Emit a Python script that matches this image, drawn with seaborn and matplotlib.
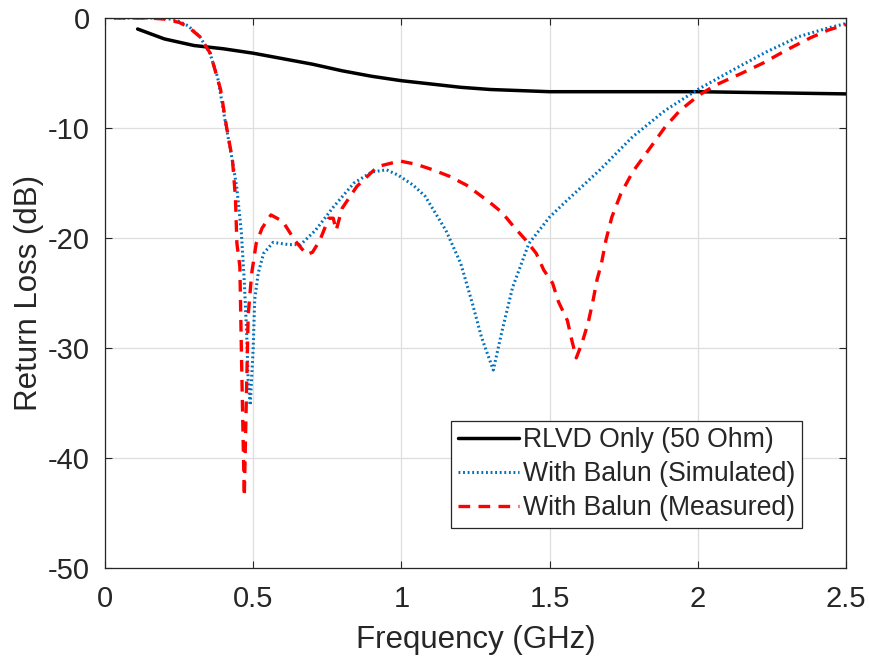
import numpy as np
import pandas as pd
import matplotlib
matplotlib.use("Agg")
import matplotlib.pyplot as plt
import seaborn as sns

# ---- data ----
rlvd_x = [0.11, 0.2, 0.3, 0.4, 0.5, 0.6, 0.7, 0.8, 0.9, 1.0, 1.1, 1.2, 1.3, 1.4, 1.5, 1.75, 2.0, 2.25, 2.5]
rlvd_y = [-1.0, -1.9, -2.5, -2.8, -3.2, -3.7, -4.2, -4.8, -5.3, -5.7, -6.0, -6.3, -6.5, -6.6, -6.7, -6.7, -6.7, -6.8, -6.9]

sim_x = [0.03, 0.1, 0.15, 0.2, 0.24, 0.28, 0.32, 0.354, 0.38, 0.405, 0.43, 0.445, 0.46, 0.47, 0.478,
         0.483, 0.49, 0.5, 0.505, 0.517, 0.535, 0.567, 0.62, 0.66, 0.71, 0.77, 0.84, 0.9, 0.95, 0.99,
         1.04, 1.08, 1.15, 1.2, 1.24, 1.27, 1.31, 1.34, 1.375, 1.43, 1.5, 1.55, 1.61, 1.67, 1.78, 1.89, 2.0,
         2.12, 2.23, 2.34, 2.44, 2.5]
sim_y = [0.0, 0.0, 0.0, 0.0, -0.2, -0.7, -1.7, -3.2, -5.4, -9.3, -13.0, -15.5, -19.5, -24.0, -28.7,
         -33.0, -35.2, -30.0, -25.6, -23.2, -21.4, -20.4, -20.6, -20.6, -19.3, -17.2, -15.0, -14.0, -13.8, -14.3,
         -15.2, -16.2, -19.3, -22.3, -26.0, -29.0, -32.0, -28.4, -24.5, -20.5, -18.1, -16.8, -15.3, -13.8, -10.8, -8.4, -6.5,
         -4.7, -3.1, -1.7, -0.9, -0.5]

meas_x = [0.03, 0.1, 0.15, 0.2, 0.25, 0.28, 0.32, 0.355, 0.39, 0.41, 0.43, 0.44, 0.445, 0.455, 0.46,
          0.465, 0.47, 0.475, 0.483, 0.495, 0.51, 0.53, 0.56, 0.6, 0.64, 0.68, 0.7, 0.725, 0.755, 0.77,
          0.78, 0.8, 0.85, 0.92, 0.995, 1.05, 1.106, 1.163, 1.22, 1.3, 1.34, 1.38, 1.42, 1.455, 1.48,
          1.51, 1.53, 1.56, 1.575, 1.59, 1.61, 1.63, 1.645, 1.66, 1.675, 1.69, 1.71, 1.74, 1.78, 1.85,
          1.89, 1.94, 2.005, 2.06, 2.15, 2.22, 2.3, 2.38, 2.44, 2.5]
meas_y = [0.0, 0.0, 0.0, -0.1, -0.4, -0.8, -1.7, -3.2, -6.5, -9.9, -12.9, -16.3, -20.5, -22.6, -30.0,
          -37.0, -43.5, -37.0, -27.0, -23.2, -20.5, -19.1, -17.9, -18.5, -20.2, -21.5, -21.3, -20.2, -18.2, -18.2,
          -19.3, -17.3, -15.3, -13.5, -13.0, -13.3, -13.8, -14.4, -15.2, -16.8, -17.7, -19.0, -20.2, -21.4, -22.9,
          -24.1, -25.8, -27.5, -29.3, -30.9, -29.5, -27.7, -25.9, -23.8, -22.3, -20.2, -18.1, -16.0, -14.0, -11.4,
          -9.9, -8.4, -7.0, -6.1, -5.0, -4.1, -2.9, -1.8, -1.1, -0.6]

labels = ["RLVD Only (50 Ohm)", "With Balun (Simulated)", "With Balun (Measured)"]
xticks = [0, 0.5, 1, 1.5, 2, 2.5]
xticklabels = ["0", "0.5", "1", "1.5", "2", "2.5"]
yticks = [-50, -40, -30, -20, -10, 0]

# ---- style ----
sns.set_theme(style="whitegrid")
plt.rcParams["font.family"] = ["Liberation Sans", "DejaVu Sans"]
plt.rcParams["axes.unicode_minus"] = False

fig = plt.figure(figsize=(8.69, 6.61), dpi=100)
ax = fig.add_axes([105 / 869, 1 - 568 / 661, (846 - 105) / 869, (568 - 18) / 661])

df1 = pd.DataFrame({"f": rlvd_x, "rl": rlvd_y})
df2 = pd.DataFrame({"f": sim_x, "rl": sim_y})
df3 = pd.DataFrame({"f": meas_x, "rl": meas_y})

sns.lineplot(data=df1, x="f", y="rl", ax=ax, color="black", lw=2.5, label=labels[0])
sns.lineplot(data=df2, x="f", y="rl", ax=ax, color="#0072BD", lw=2.2, label=labels[1])
sns.lineplot(data=df3, x="f", y="rl", ax=ax, color="#FF0000", lw=2.4, label=labels[2])
ax.lines[1].set_linestyle((0, (0.6, 0.9)))
ax.lines[2].set_linestyle((0, (3.5, 2.5)))

ax.set_xlim(0, 2.5)
ax.set_ylim(-50, 0)
ax.set_xticks(xticks)
ax.set_xticklabels(xticklabels)
ax.set_yticks(yticks)
ax.set_xlabel("Frequency (GHz)", fontsize=22.5, color="#262626")
ax.set_ylabel("Return Loss (dB)", fontsize=22.5, color="#262626")
ax.xaxis.set_label_coords(0.5, -0.104)
ax.yaxis.set_label_coords(-0.082, 0.5)
ax.tick_params(axis="both", labelsize=21, colors="#262626", direction="in", length=5,
               width=0.8, top=True, right=True, bottom=True, left=True)
ax.tick_params(axis="x", pad=12)
ax.tick_params(axis="y", pad=11)
ax.grid(True, color="#dedede", lw=0.9)
for s in ax.spines.values():
    s.set_visible(True)
    s.set_color("#262626")
    s.set_linewidth(0.9)

leg = ax.legend(loc="lower right", bbox_to_anchor=(0.9406, 0.0727), fontsize=19.2,
                frameon=True, fancybox=False, handlelength=2.3, handletextpad=0.15,
                borderpad=0.25, labelspacing=0.3, borderaxespad=0)
leg.get_frame().set_edgecolor("#262626")
leg.get_frame().set_linewidth(0.9)
leg.get_frame().set_alpha(1)
for t in leg.get_texts():
    t.set_color("#262626")

fig.savefig("out.png", dpi=100)
